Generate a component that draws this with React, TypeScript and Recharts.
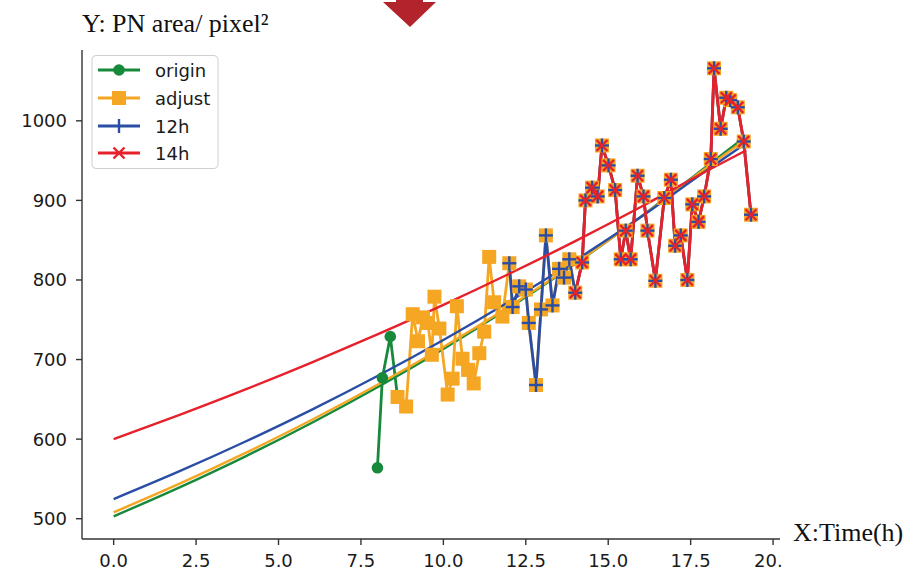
import React from 'react';
import { ComposedChart, Line, XAxis, YAxis } from 'recharts';

// ---- data ----
const originTime = [8.0, 8.15, 8.39, 8.61];
const originArea = [564, 677, 729, 653];

const adjustTime = [8.61, 8.87, 9.07, 9.23, 9.38, 9.53, 9.65, 9.73, 9.88, 10.13, 10.28, 10.41, 10.58, 10.75, 10.92, 11.09, 11.24, 11.39, 11.54, 11.79,
  12.0, 12.1, 12.3, 12.5, 12.59, 12.81, 12.96, 13.11, 13.31, 13.51, 13.66, 13.82,
  14.0, 14.21, 14.31, 14.51, 14.68, 14.81, 15.01, 15.21, 15.38, 15.53, 15.68, 15.89, 16.07, 16.19, 16.43, 16.7, 16.9, 17.03, 17.2, 17.4, 17.55, 17.74, 17.91, 18.11, 18.21, 18.41, 18.58, 18.7, 18.93, 19.11, 19.33];
const adjustArea = [653, 641, 757, 723, 753, 746, 706, 779, 739, 656, 676, 767, 701, 687, 670, 708, 735, 829, 772, 754,
  821, 766, 792, 788, 746, 668, 763, 856, 768, 814, 803, 826,
  784, 822, 900, 916, 905, 969, 944, 913, 826, 862, 826, 931, 905, 862, 799, 903, 926, 843, 856, 800, 895, 873, 905, 952, 1066, 990, 1029, 1026, 1017, 974, 882];

const h12Time = [12.0, 12.1, 12.3, 12.5, 12.59, 12.81, 12.96, 13.11, 13.31, 13.51, 13.66, 13.82,
  14.0, 14.21, 14.31, 14.51, 14.68, 14.81, 15.01, 15.21, 15.38, 15.53, 15.68, 15.89, 16.07, 16.19, 16.43, 16.7, 16.9, 17.03, 17.2, 17.4, 17.55, 17.74, 17.91, 18.11, 18.21, 18.41, 18.58, 18.7, 18.93, 19.11, 19.33];
const h12Area = [821, 766, 792, 788, 746, 668, 763, 856, 768, 814, 803, 826,
  784, 822, 900, 916, 905, 969, 944, 913, 826, 862, 826, 931, 905, 862, 799, 903, 926, 843, 856, 800, 895, 873, 905, 952, 1066, 990, 1029, 1026, 1017, 974, 882];

const h14Time = [14.0, 14.21, 14.31, 14.51, 14.68, 14.81, 15.01, 15.21, 15.38, 15.53, 15.68, 15.89, 16.07, 16.19, 16.43, 16.7, 16.9, 17.03, 17.2, 17.4, 17.55, 17.74, 17.91, 18.11, 18.21, 18.41, 18.58, 18.7, 18.93, 19.11, 19.33];
const h14Area = [784, 822, 900, 916, 905, 969, 944, 913, 826, 862, 826, 931, 905, 862, 799, 903, 926, 843, 856, 800, 895, 873, 905, 952, 1066, 990, 1029, 1026, 1017, 974, 882];

const fitTime = [0, 2, 4, 6, 8, 10, 12, 14, 16, 18, 19.19];
const fitOrigin = [503, 539.4, 578.4, 620.3, 665.2, 713.3, 765, 820.3, 879.7, 943.3, 981];
const fitAdjust = [508, 544, 582.7, 624, 668.3, 715.8, 766.6, 821, 879.3, 941.7, 977];
const fit12h = [524.7, 559.7, 597, 636.8, 679.3, 724.6, 773, 824.5, 879.5, 938.2, 972];
const fit14h = [600, 630.5, 662.5, 696.2, 731.6, 768.7, 807.8, 848.8, 892, 937.3, 963];

const xTicks = [0, 2.5, 5, 7.5, 10, 12.5, 15, 17.5, 20];
const yTicks = [500, 600, 700, 800, 900, 1000];

const legendNames = ['origin', 'adjust', '12h', '14h'];

const zip = (xs: number[], ys: number[]) => xs.map((x, i) => ({ x, y: ys[i] }));

const GREEN = '#17893b';
const ORANGE = '#f5a623';
const BLUE = '#2a4ea6';
const RED = '#e6212b';

const circleDot = (p: any) => <circle key={'c' + p.index} cx={p.cx} cy={p.cy} r={5.8} fill={GREEN} stroke="none" />;
const squareDot = (p: any) => <rect key={'s' + p.index} x={p.cx - 7} y={p.cy - 7} width={14} height={14} fill={ORANGE} stroke="none" />;
const plusDot = (p: any) => (
  <g key={'p' + p.index}>
    <line x1={p.cx - 7} y1={p.cy} x2={p.cx + 7} y2={p.cy} stroke={BLUE} strokeWidth={2.4} />
    <line x1={p.cx} y1={p.cy - 7} x2={p.cx} y2={p.cy + 7} stroke={BLUE} strokeWidth={2.4} />
  </g>
);
const crossDot = (p: any) => (
  <g key={'x' + p.index}>
    <line x1={p.cx - 5.5} y1={p.cy - 5.5} x2={p.cx + 5.5} y2={p.cy + 5.5} stroke={RED} strokeWidth={2.4} />
    <line x1={p.cx - 5.5} y1={p.cy + 5.5} x2={p.cx + 5.5} y2={p.cy - 5.5} stroke={RED} strokeWidth={2.4} />
  </g>
);

const XTick = (props: any) => {
  const { x, y, payload } = props;
  const v = payload.value as number;
  const label = v === 20 ? '20.' : v.toFixed(1);
  return (
    <text x={v === 20 ? x - 19 : x} y={y} dy={13} textAnchor={v === 20 ? 'start' : 'middle'} fontSize={18}
      fontFamily="DejaVu Sans" fill="#1a1a1a">{label}</text>
  );
};

export default function App() {
  const originData = zip(originTime, originArea);
  const adjustData = zip(adjustTime, adjustArea);
  const h12Data = zip(h12Time, h12Area);
  const h14Data = zip(h14Time, h14Area);
  const fitO = zip(fitTime, fitOrigin);
  const fitA = zip(fitTime, fitAdjust);
  const fitB = zip(fitTime, fit12h);
  const fitR = zip(fitTime, fit14h);

  const legendColors = [GREEN, ORANGE, BLUE, RED];
  const rowsY = [70, 98, 126, 153];

  return (
    <div style={{ position: 'absolute', left: 0, top: 0, width: 913, height: 573, background: '#fff' }}>
      <ComposedChart width={913} height={573} margin={{ top: 50, right: 133, left: 0, bottom: 0 }}>
        <XAxis dataKey="x" type="number" domain={[-0.96, 20.21]} ticks={xTicks} allowDataOverflow
          height={34} tickSize={6} tickMargin={9} stroke="#333" strokeWidth={1.4}
          tickLine={{ stroke: '#333', strokeWidth: 1.4 }} tick={<XTick />} />
        <YAxis type="number" domain={[474.5, 1089]} ticks={yTicks} allowDataOverflow width={82}
          tickSize={6} tickMargin={9} stroke="#333" strokeWidth={1.4}
          tickLine={{ stroke: '#333', strokeWidth: 1.4 }}
          tick={{ fontSize: 18, fontFamily: 'DejaVu Sans', fill: '#1a1a1a' }} />
        <Line data={originData} dataKey="y" type="linear" stroke={GREEN} strokeWidth={2.8} dot={circleDot} activeDot={false} isAnimationActive={false} />
        <Line data={fitO} dataKey="y" type="monotone" stroke={GREEN} strokeWidth={2.4} dot={false} activeDot={false} isAnimationActive={false} />
        <Line data={adjustData} dataKey="y" type="linear" stroke={ORANGE} strokeWidth={2.8} dot={squareDot} activeDot={false} isAnimationActive={false} />
        <Line data={fitA} dataKey="y" type="monotone" stroke={ORANGE} strokeWidth={2.4} dot={false} activeDot={false} isAnimationActive={false} />
        <Line data={h12Data} dataKey="y" type="linear" stroke={BLUE} strokeWidth={2.8} dot={plusDot} activeDot={false} isAnimationActive={false} />
        <Line data={fitB} dataKey="y" type="monotone" stroke={BLUE} strokeWidth={2.4} dot={false} activeDot={false} isAnimationActive={false} />
        <Line data={h14Data} dataKey="y" type="linear" stroke={RED} strokeWidth={2.8} dot={crossDot} activeDot={false} isAnimationActive={false} />
        <Line data={fitR} dataKey="y" type="monotone" stroke={RED} strokeWidth={2.4} dot={false} activeDot={false} isAnimationActive={false} />
      </ComposedChart>
      <svg width={913} height={573} style={{ position: 'absolute', left: 0, top: 0, pointerEvents: 'none' }}>
        <polygon points="396,0 423,0 423,2 436,2 410,27 383,2 396,2" fill="#b3232b" />
        <text x={82} y={32} fontFamily="Liberation Serif" fontSize={26} fill="#111">Y: PN area/ pixel²</text>
        <text x={793} y={541} fontFamily="Liberation Serif" fontSize={26} fill="#111">X:Time(h)</text>
        <rect x={92} y={55.5} width={126} height={113} rx={4} fill="#fff" fillOpacity={0.85} stroke="#cfcfcf" strokeWidth={1} />
        {legendNames.map((name, i) => {
          const cy = rowsY[i];
          const c = legendColors[i];
          return (
            <g key={name}>
              <line x1={98} y1={cy} x2={140} y2={cy} stroke={c} strokeWidth={2.8} />
              {i === 0 && <circle cx={119} cy={cy} r={5.8} fill={c} />}
              {i === 1 && <rect x={112} y={cy - 7} width={14} height={14} fill={c} />}
              {i === 2 && <line x1={119} y1={cy - 7} x2={119} y2={cy + 7} stroke={c} strokeWidth={2.4} />}
              {i === 3 && (
                <g>
                  <line x1={113.5} y1={cy - 5.5} x2={124.5} y2={cy + 5.5} stroke={c} strokeWidth={2.4} />
                  <line x1={113.5} y1={cy + 5.5} x2={124.5} y2={cy - 5.5} stroke={c} strokeWidth={2.4} />
                </g>
              )}
              <text x={155} y={cy + 6.5} fontFamily="DejaVu Sans" fontSize={18} fill="#1a1a1a">{name}</text>
            </g>
          );
        })}
      </svg>
    </div>
  );
}
